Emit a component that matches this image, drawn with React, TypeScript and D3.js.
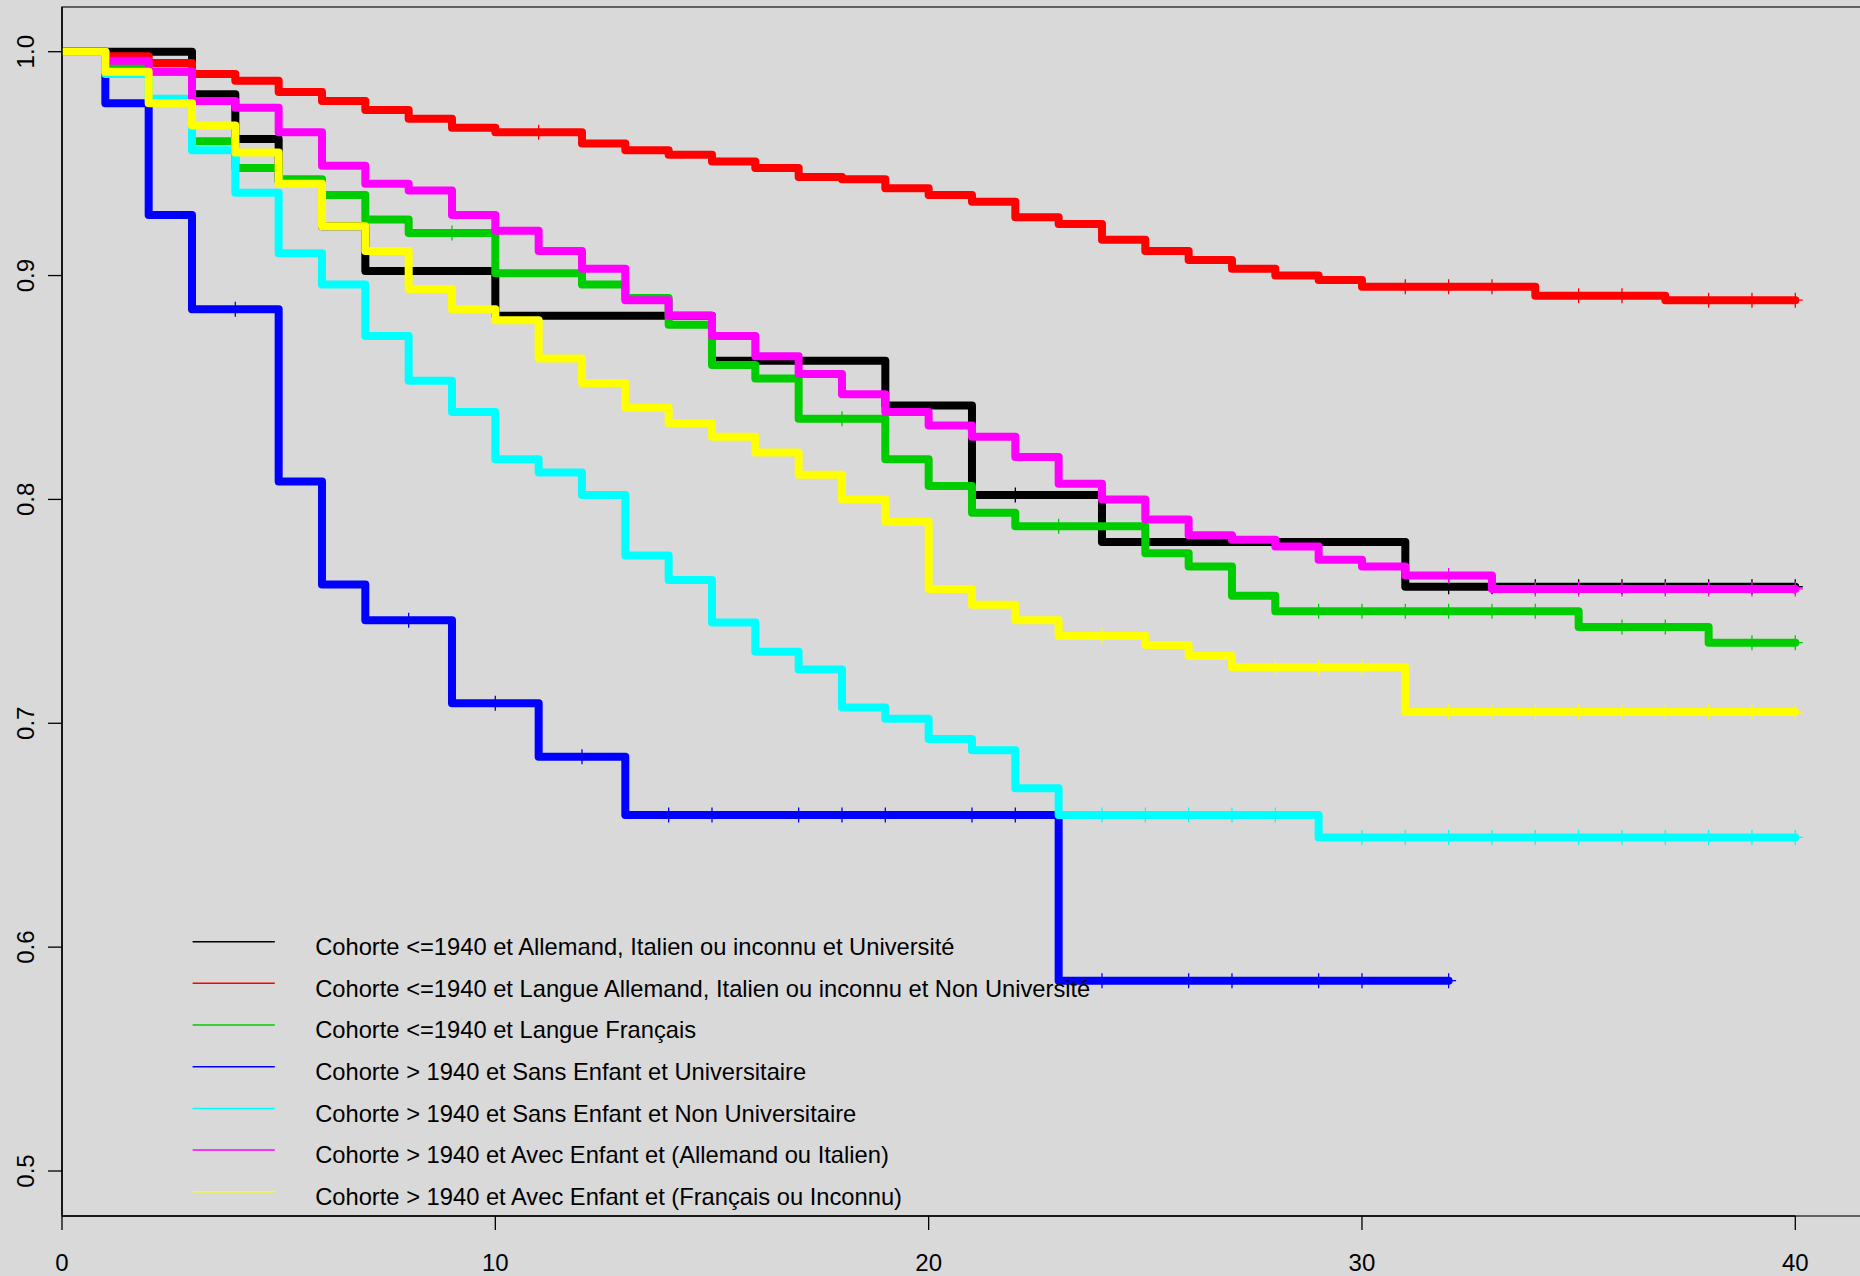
import { useEffect, useRef } from "react";
import * as d3 from "d3";

const WIDTH = 1860;
const HEIGHT = 1276;

// Kaplan-Meier steps: time of each drop and the survival right after it.
const blackTimes = [0, 3, 4, 5, 6, 7, 10, 15, 19, 21, 24, 31];
const blackSurv = [1.0, 0.981, 0.961, 0.942, 0.922, 0.902, 0.882, 0.862, 0.842, 0.802, 0.781, 0.761];
const blackCensor = [22, 32, 33, 34, 35, 36, 37, 38, 39, 40];

const redTimes = [0, 1, 2, 3, 4, 5, 6, 7, 8, 9, 10, 12, 13, 14, 15, 16, 17, 18, 19, 20, 21, 22, 23, 24, 25, 26, 27, 28, 29, 30, 34, 37];
const redSurv = [
  1.0, 0.998, 0.995, 0.99, 0.987, 0.982, 0.978, 0.974, 0.97, 0.966, 0.964, 0.959, 0.956, 0.954, 0.951, 0.948,
  0.944, 0.943, 0.939, 0.936, 0.933, 0.926, 0.923, 0.916, 0.911, 0.907, 0.903, 0.9, 0.898, 0.895, 0.891, 0.889,
];
const redCensor = [11, 31, 32, 33, 35, 36, 38, 39, 40];

const greenTimes = [0, 1, 2, 3, 4, 5, 6, 7, 8, 10, 12, 13, 14, 15, 16, 17, 19, 20, 21, 22, 25, 26, 27, 28, 35, 38];
const greenSurv = [
  1.0, 0.993, 0.991, 0.96, 0.948, 0.943, 0.936, 0.925, 0.919, 0.901, 0.896, 0.89, 0.878, 0.86, 0.854, 0.836,
  0.818, 0.806, 0.794, 0.788, 0.776, 0.77, 0.757, 0.75, 0.743, 0.736,
];
const greenCensor = [9, 18, 23, 29, 30, 31, 32, 33, 34, 36, 37, 39, 40];

const blueTimes = [0, 1, 2, 3, 5, 6, 7, 9, 11, 13, 23];
const blueSurv = [1.0, 0.977, 0.927, 0.885, 0.808, 0.762, 0.746, 0.709, 0.685, 0.659, 0.585];
const blueCensor = [4, 8, 10, 12, 14, 15, 17, 18, 19, 21, 22, 24, 26, 27, 29, 30, 32];

const cyanTimes = [0, 1, 2, 3, 4, 5, 6, 7, 8, 9, 10, 11, 12, 13, 14, 15, 16, 17, 18, 19, 20, 21, 22, 23, 29];
const cyanSurv = [
  1.0, 0.99, 0.979, 0.956, 0.937, 0.91, 0.896, 0.873, 0.853, 0.839, 0.818, 0.812, 0.802, 0.775, 0.764, 0.745,
  0.732, 0.724, 0.707, 0.702, 0.693, 0.688, 0.671, 0.659, 0.649,
];
const cyanCensor = [24, 25, 26, 27, 28, 30, 31, 32, 33, 34, 35, 36, 37, 38, 39, 40];

const magentaTimes = [0, 1, 2, 3, 4, 5, 6, 7, 8, 9, 10, 11, 12, 13, 14, 15, 16, 17, 18, 19, 20, 21, 22, 23, 24, 25, 26, 27, 28, 29, 30, 31, 33];
const magentaSurv = [
  1.0, 0.996, 0.991, 0.978, 0.975, 0.964, 0.949, 0.941, 0.938, 0.927, 0.92, 0.911, 0.903, 0.889, 0.882, 0.873,
  0.864, 0.856, 0.847, 0.839, 0.833, 0.828, 0.819, 0.807, 0.8, 0.791, 0.784, 0.782, 0.779, 0.773, 0.77, 0.766,
  0.76,
];
const magentaCensor = [32, 34, 35, 36, 37, 38, 39, 40];

const yellowTimes = [0, 1, 2, 3, 4, 5, 6, 7, 8, 9, 10, 11, 12, 13, 14, 15, 16, 17, 18, 19, 20, 21, 22, 23, 25, 26, 27, 31];
const yellowSurv = [
  1.0, 0.991, 0.977, 0.967, 0.955, 0.941, 0.922, 0.911, 0.894, 0.885, 0.88, 0.863, 0.852, 0.841, 0.834, 0.828,
  0.821, 0.811, 0.8, 0.79, 0.76, 0.753, 0.746, 0.739, 0.735, 0.73, 0.725, 0.705,
];
const yellowCensor = [24, 28, 29, 30, 32, 33, 34, 35, 36, 37, 38, 39, 40];

const legendLabels = [
  "Cohorte <=1940 et Allemand, Italien ou inconnu et Université",
  "Cohorte <=1940 et Langue Allemand, Italien ou inconnu et Non Université",
  "Cohorte <=1940 et Langue Français",
  "Cohorte > 1940 et Sans Enfant et Universitaire",
  "Cohorte > 1940 et Sans Enfant et Non Universitaire",
  "Cohorte > 1940 et Avec Enfant et (Allemand ou Italien)",
  "Cohorte > 1940 et Avec Enfant et (Français ou Inconnu)",
];
const colors = ["#000000", "#ff0000", "#00cd00", "#0000ff", "#00ffff", "#ff00ff", "#ffff00"];

const xTicks = [0, 10, 20, 30, 40];
const yTicks = [0.5, 0.6, 0.7, 0.8, 0.9, 1.0];

type Curve = { times: number[]; surv: number[]; end: number; censor: number[] };

const curves: Curve[] = [
  { times: blackTimes, surv: blackSurv, end: 40, censor: blackCensor },
  { times: redTimes, surv: redSurv, end: 40, censor: redCensor },
  { times: greenTimes, surv: greenSurv, end: 40, censor: greenCensor },
  { times: blueTimes, surv: blueSurv, end: 32, censor: blueCensor },
  { times: cyanTimes, surv: cyanSurv, end: 40, censor: cyanCensor },
  { times: magentaTimes, surv: magentaSurv, end: 40, censor: magentaCensor },
  { times: yellowTimes, surv: yellowSurv, end: 40, censor: yellowCensor },
];

// survival value in force at time t (step function, right-continuous)
function survAt(c: Curve, t: number): number {
  let s = c.surv[0];
  for (let i = 0; i < c.times.length; i++) if (c.times[i] <= t) s = c.surv[i];
  return s;
}

export default function App(): JSX.Element {
  const ref = useRef<SVGSVGElement | null>(null);

  useEffect(() => {
    if (!ref.current) return;
    const svg = d3.select(ref.current);
    svg.selectAll("*").remove();

    const font = "'Liberation Sans', Arial, sans-serif";
    const plotLeft = 62;
    const plotTop = 7;
    const plotBottom = 1216;

    const x = d3.scaleLinear().domain([0, 40]).range([62, 1795.3]);
    const y = d3.scaleLinear().domain([0.5, 1]).range([1171, 51.7]);

    svg.append("rect").attr("width", WIDTH).attr("height", HEIGHT).attr("fill", "#d9d9d9");

    svg
      .append("defs")
      .append("clipPath")
      .attr("id", "plot-clip")
      .append("rect")
      .attr("x", plotLeft)
      .attr("y", plotTop)
      .attr("width", WIDTH - plotLeft + 20)
      .attr("height", plotBottom - plotTop);

    // box (open on the right, runs off the image)
    svg
      .append("path")
      .attr("d", `M${WIDTH + 5},${plotTop}H${plotLeft}V${plotBottom}H${WIDTH + 5}`)
      .attr("fill", "none")
      .attr("stroke", "#3a3a3a")
      .attr("stroke-width", 1.5);

    const step = d3
      .line<[number, number]>()
      .x((d) => x(d[0]))
      .y((d) => y(d[1]))
      .curve(d3.curveStepAfter);

    const g = svg.append("g").attr("clip-path", "url(#plot-clip)");

    curves.forEach((c, i) => {
      const pts: [number, number][] = c.times.map((t, k) => [t, c.surv[k]]);
      pts.push([c.end, c.surv[c.surv.length - 1]]);
      g.append("path")
        .attr("d", step(pts))
        .attr("fill", "none")
        .attr("stroke", colors[i])
        .attr("stroke-width", 8)
        .attr("stroke-linejoin", "round")
        .attr("stroke-linecap", "round");

      // censoring marks "+"
      g.append("g")
        .selectAll("path")
        .data(c.censor)
        .join("path")
        .attr("d", (t) => {
          const cx = x(t);
          const cy = y(survAt(c, t));
          return `M${cx},${cy - 7.5}V${cy + 7.5}M${cx - 7.5},${cy}H${cx + 7.5}`;
        })
        .attr("stroke", colors[i])
        .attr("stroke-width", 1.3)
        .attr("fill", "none");
    });

    // x axis
    const xa = svg.append("g").attr("font-family", font).attr("font-size", 24).attr("fill", "#000");
    xa.append("line")
      .attr("x1", x(0))
      .attr("x2", x(40))
      .attr("y1", plotBottom)
      .attr("y2", plotBottom)
      .attr("stroke", "#000")
      .attr("stroke-width", 1.5);
    xTicks.forEach((t) => {
      xa.append("line")
        .attr("x1", x(t))
        .attr("x2", x(t))
        .attr("y1", plotBottom)
        .attr("y2", plotBottom + 14)
        .attr("stroke", "#000")
        .attr("stroke-width", 1.3);
      xa.append("text")
        .attr("x", x(t))
        .attr("y", plotBottom + 55)
        .attr("text-anchor", "middle")
        .text(String(t));
    });

    // y axis, labels rotated like R's default las = 0
    const ya = svg.append("g").attr("font-family", font).attr("font-size", 24).attr("fill", "#000");
    ya.append("line")
      .attr("x1", plotLeft)
      .attr("x2", plotLeft)
      .attr("y1", plotTop)
      .attr("y2", plotBottom)
      .attr("stroke", "#000")
      .attr("stroke-width", 1.5);
    yTicks.forEach((v) => {
      ya.append("line")
        .attr("x1", plotLeft - 14)
        .attr("x2", plotLeft)
        .attr("y1", y(v))
        .attr("y2", y(v))
        .attr("stroke", "#000")
        .attr("stroke-width", 1.3);
      ya.append("text")
        .attr("transform", `translate(33.5,${y(v)}) rotate(-90)`)
        .attr("text-anchor", "middle")
        .text(v.toFixed(1));
    });

    // legend (no box), drawn over the curves; R's glyphs run a touch narrower
    const lg = svg.append("g").attr("font-family", font).attr("font-size", 24).attr("fill", "#000");
    legendLabels.forEach((label, i) => {
      const ly = 941.7 + i * 41.67;
      lg.append("line")
        .attr("x1", 192.6)
        .attr("x2", 274.8)
        .attr("y1", ly)
        .attr("y2", ly)
        .attr("stroke", colors[i])
        .attr("stroke-width", 1.5);
      const txt = lg.append("text").attr("x", 315.2).attr("y", ly + 13.3).text(label);
      const len = (txt.node() as SVGTextElement).getComputedTextLength();
      txt.attr("textLength", len * 0.988).attr("lengthAdjust", "spacingAndGlyphs");
    });
  }, []);

  return (
    <svg
      ref={ref}
      width={WIDTH}
      height={HEIGHT}
      style={{ position: "absolute", left: 0, top: 0, display: "block" }}
    />
  );
}
